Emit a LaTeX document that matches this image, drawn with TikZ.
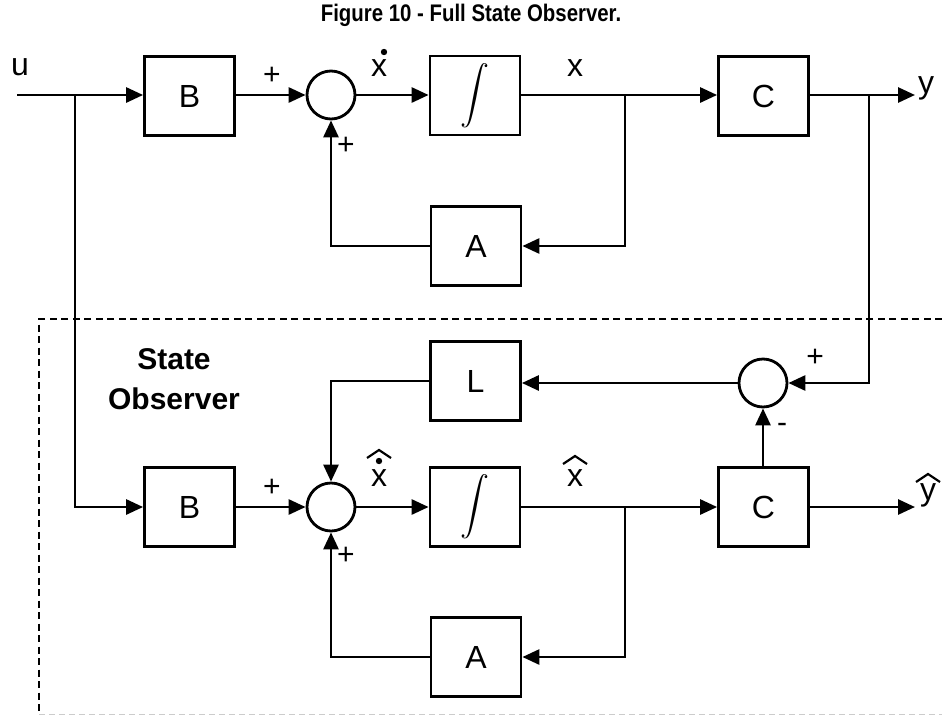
\documentclass[tikz,border=0pt]{standalone}
\usepackage{fontspec}
\usepackage{graphicx}
\setmainfont{Liberation Sans}
\usetikzlibrary{arrows.meta}
\begin{document}
\begin{tikzpicture}[x=1pt,y=-1pt,
  line width=2.8pt,
  blk/.style={draw, minimum width=90pt, minimum height=79pt, inner sep=0pt, font=\fontsize{32}{38}\selectfont},
  sumc/.style={draw, circle, minimum size=48pt, inner sep=0pt},
  lbl/.style={font=\fontsize{32}{38}\selectfont, inner sep=0pt},
  sgn/.style={font=\fontsize{30}{36}\selectfont, inner sep=0pt},
  hatl/.style={line width=2.2pt, line join=miter},
  >={Triangle[length=17pt,width=15pt]},
]
\useasboundingbox (0,0) rectangle (942,715);

% title
\node[font=\fontsize{24}{28}\selectfont\bfseries] (title) at (471,15) {\scalebox{0.85}[1]{Figure 10 - Full State Observer.}};

% ---------- plant ----------
\coordinate (uin) at (17,95);
\coordinate (ub) at (75,95);
\node[blk] (B1) at (189.5,96) {B};
\node[sumc] (S1) at (331,95) {};
\node[blk] (I1) at (475,95.5) {\scalebox{2.9}{$\displaystyle\int$}};
\node[blk] (C1) at (763.5,96) {C};
\node[blk] (A1) at (476,246) {A};
\coordinate (yout) at (915,95);
\coordinate (xb1) at (625,95);
\coordinate (yb) at (869,95);

\draw[->] (uin) -- (B1.west |- uin);
\draw[->] (B1.east |- S1) -- (S1.west);
\draw[->] (S1.east) -- (I1.west |- S1);
\draw[->] (I1.east |- S1) -- (C1.west |- S1);
\draw[->] (C1.east |- S1) -- (yout);
\draw[->] (xb1) |- (A1.east);
\draw[->] (A1.west) -| (S1.south);

\node[lbl] (lu) at (20,67) {u};
\node[lbl] (ly) at (926,88) {y};
\node[lbl] (lx1) at (379,68) {x};
\fill (384,52) circle (3.2pt);
\node[lbl] (lx2) at (575,68) {x};
\node[sgn] (p1) at (272,76) {+};
\node[sgn] (p2) at (346,146) {+};

% ---------- observer ----------
\draw[dashed, dash pattern=on 7pt off 4.5pt] (942,319) -- (39,319) -- (39,715);
\draw[line width=0.8pt, gray!40, dash pattern=on 6pt off 4pt] (39,714) -- (942,714);

\node[font=\fontsize{30}{40}\selectfont\bfseries, align=center, inner sep=0pt] (obs) at (174,379) {State\\Observer};

\node[blk] (B2) at (189.5,507) {B};
\node[sumc] (S2) at (331,507) {};
\node[blk] (I2) at (475,507) {\scalebox{2.9}{$\displaystyle\int$}};
\node[blk] (C2) at (763.5,507) {C};
\node[blk] (A2) at (476,657) {A};
\node[blk] (L) at (475.5,381) {L};
\node[sumc] (S3) at (763,383) {};
\coordinate (yhout) at (915,507);
\coordinate (xb2) at (625,507);

\draw[->] (ub) |- (B2.west);
\draw[->] (B2.east) -- (S2.west);
\draw[->] (S2.east) -- (I2.west);
\draw[->] (I2.east) -- (C2.west);
\draw[->] (C2.east) -- (yhout);
\draw[->] (xb2) |- (A2.east);
\draw[->] (A2.west) -| (S2.south);
\draw[->] (yb) |- (S3.east);
\draw[->] (S3.west) -- (L.east |- S3);
\draw[->] (L.west) -| (S2.north);
\draw[->] (C2.north -| S3) -- (S3.south);

\node[sgn] (p3) at (272,488) {+};
\node[sgn] (p4) at (346,556) {+};
\node[sgn] (p5) at (815,358) {+};
\node[sgn] (m1) at (782,428) {-};

\node[lbl] (lx3) at (379,478) {x};
\fill (379,461) circle (3.2pt);
\draw[hatl] (367,458) -- (379,450) -- (391,458);
\node[lbl] (lx4) at (575,478) {x};
\draw[hatl] (563,464) -- (575,456) -- (587,464);
\node[lbl] (lyh) at (928,495) {y};
\draw[hatl] (916,482) -- (928,474) -- (940,482);
\end{tikzpicture}
\end{document}
